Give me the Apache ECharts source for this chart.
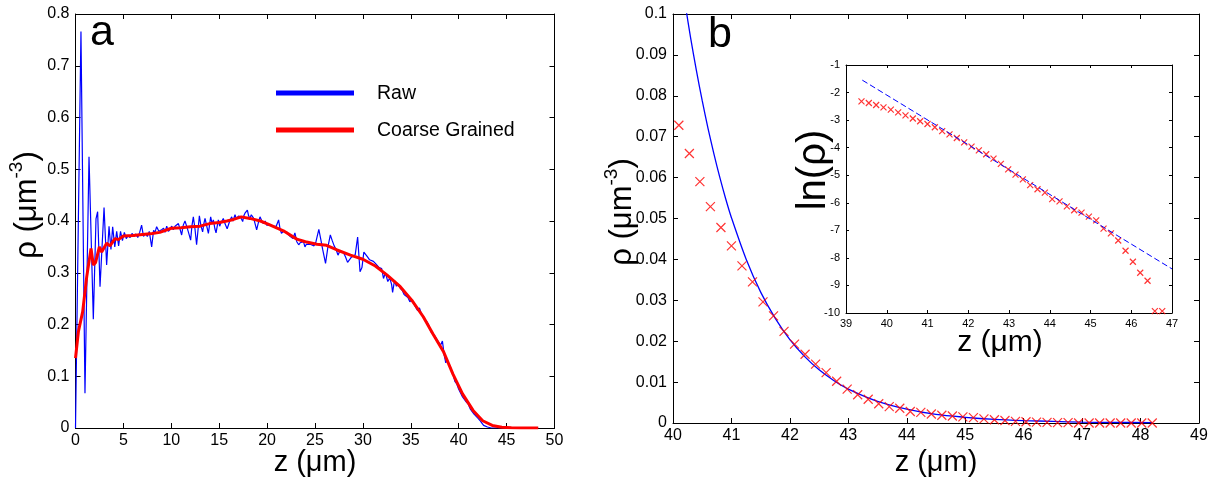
<!DOCTYPE html>
<html><head><meta charset="utf-8">
<script src="https://cdn.jsdelivr.net/npm/echarts@6/dist/echarts.min.js"></script>
<style>html,body{margin:0;padding:0;background:#fff}#c{width:1213px;height:477px}</style>
</head><body><div id="c"></div>
<script>
// ---------- DATA ----------
const seriesNames = ['Raw', 'Coarse Grained'];
// Panel a: raw density [z (µm), rho (µm^-3)]
const rawData = [
[0,0],[0.57,0.766],[0.99,0.067],[1.41,0.524],[1.86,0.21],[2.14,0.404],[2.31,0.418],[2.56,0.273],[2.98,0.426],[3.25,0.315],
[3.5,0.39],[3.7,0.345],[3.88,0.389],[4.1,0.35],[4.3,0.38],[4.5,0.352],[4.7,0.38],[4.9,0.362],[5.1,0.378],[5.3,0.366],
[5.5,0.372],[5.7,0.368],[5.9,0.376],[6.1,0.37],[6.3,0.375],[6.5,0.368],[6.7,0.378],[6.9,0.392],[7.1,0.37],[7.3,0.376],
[7.5,0.37],[7.7,0.38],[7.95,0.35],[8.15,0.382],[8.3,0.378],[8.47,0.389],[8.7,0.38],[8.99,0.383],[9.2,0.386],[9.35,0.378],
[9.52,0.39],[9.7,0.38],[9.86,0.384],[10.05,0.39],[10.2,0.383],[10.39,0.39],[10.55,0.388],[10.74,0.395],[10.9,0.385],[11.08,0.373],
[11.25,0.392],[11.43,0.40],[11.6,0.39],[11.78,0.379],[12.02,0.363],[12.15,0.39],[12.3,0.408],[12.47,0.385],[12.64,0.354],[12.93,0.41],
[13.1,0.39],[13.27,0.379],[13.4,0.395],[13.52,0.405],[13.7,0.39],[13.87,0.376],[14.11,0.408],[14.25,0.395],[14.39,0.402],[14.55,0.385],
[14.67,0.377],[14.91,0.402],[15.05,0.39],[15.15,0.395],[15.3,0.392],[15.43,0.405],[15.6,0.395],[15.71,0.392],[15.83,0.385],[15.95,0.383],
[16.1,0.40],[16.3,0.408],[16.45,0.40],[16.65,0.412],[16.78,0.405],[16.89,0.402],[17.05,0.41],[17.17,0.412],[17.3,0.405],[17.45,0.399],
[17.57,0.41],[17.69,0.415],[17.94,0.421],[18.07,0.41],[18.21,0.405],[18.35,0.412],[18.49,0.415],[18.6,0.405],[18.74,0.405],[18.91,0.383],
[19.1,0.398],[19.26,0.408],[19.45,0.40],[19.61,0.395],[19.8,0.40],[19.95,0.392],[20.13,0.395],[20.3,0.392],[20.48,0.392],[20.7,0.39],
[20.93,0.389],[21.2,0.402],[21.35,0.385],[21.5,0.376],[21.7,0.38],[21.9,0.382],[22.1,0.378],[22.3,0.372],[22.5,0.37],[22.7,0.366],
[22.9,0.377],[23.1,0.36],[23.3,0.354],[23.45,0.358],[23.6,0.36],[23.8,0.36],[23.95,0.35],[24.1,0.355],[24.3,0.357],[24.5,0.355],
[24.7,0.356],[24.9,0.352],[25.1,0.36],[25.4,0.384],[25.6,0.365],[25.8,0.345],[26.1,0.318],[26.35,0.35],[26.6,0.373],[26.8,0.362],
[27.0,0.352],[27.2,0.345],[27.4,0.334],[27.6,0.342],[27.8,0.343],[28.0,0.338],[28.2,0.33],[28.4,0.32],[28.6,0.317],[28.8,0.33],
[29.0,0.33],[29.2,0.335],[29.45,0.369],[29.7,0.302],[29.9,0.31],[30.1,0.34],[30.3,0.341],[30.5,0.33],[30.7,0.325],[30.9,0.322],
[31.1,0.322],[31.3,0.318],[31.5,0.315],[31.7,0.31],[31.96,0.308],[32.15,0.289],[32.35,0.3],[32.6,0.283],[32.8,0.29],[33.0,0.277],
[33.1,0.262],[33.3,0.285],[33.5,0.274],[33.7,0.278],[33.9,0.27],[34.1,0.266],[34.3,0.258],[34.5,0.259],[34.7,0.252],[34.9,0.244],
[35.1,0.248],[35.3,0.24],[35.5,0.238],[35.7,0.227],[35.9,0.232],[36.1,0.221],[36.3,0.215],[36.5,0.209],[36.7,0.205],[36.9,0.198],
[37.1,0.186],[37.3,0.184],[37.5,0.178],[37.7,0.172],[37.9,0.166],[38.1,0.16],[38.3,0.168],[38.5,0.14],[38.65,0.126],[38.8,0.132],
[39.0,0.122],[39.2,0.114],[39.4,0.104],[39.6,0.09],[39.8,0.085],[40.0,0.075],[40.2,0.072],[40.4,0.06],[40.6,0.058],[40.8,0.05],
[41.0,0.046],[41.2,0.037],[41.4,0.035],[41.6,0.027],[41.8,0.024],[42.0,0.019],[42.2,0.015],[42.4,0.01],[42.6,0.005],[42.8,0.006],
[43.0,0.002],[43.2,0.003],[43.4,0],[48.3,0]
];
// Panel a: coarse grained density [z, rho]
const coarseData = [
[0,0.135],[0.3,0.186],[0.75,0.225],[1.17,0.292],[1.62,0.347],[1.86,0.315],[2.1,0.32],[2.49,0.350],[2.73,0.34],[3.25,0.357],
[3.6,0.352],[4.12,0.366],[4.47,0.364],[5.0,0.371],[6.0,0.372],[7.0,0.374],[8.0,0.376],[8.8,0.378],[10.0,0.386],[11.0,0.387],
[12.0,0.389],[13.0,0.39],[14.0,0.395],[15.0,0.397],[15.8,0.40],[16.5,0.403],[17.3,0.408],[18.2,0.405],[19.3,0.400],[20.1,0.394],
[21.7,0.381],[23.1,0.365],[24.0,0.36],[25.2,0.355],[26.2,0.353],[27.3,0.344],[28.7,0.334],[30.0,0.326],[31.3,0.313],[32.5,0.296],
[33.9,0.273],[35.1,0.247],[36.3,0.215],[37.3,0.182],[38.4,0.148],[39.4,0.104],[40.4,0.066],[41.5,0.034],[42.5,0.014],[43.5,0.005],
[44.5,0.0015],[45.5,0.0005],[46.5,0],[48.3,0]
];
// Panel b: measured density (markers)
const bZ = [40.1,40.28,40.46,40.64,40.82,41.0,41.18,41.36,41.54,41.72,41.9,42.08,42.26,42.44,42.62,42.8,42.98,43.16,43.34,43.52,
43.7,43.88,44.06,44.24,44.42,44.6,44.78,44.96,45.14,45.32,45.5,45.68,45.86,46.04,46.22,46.4,46.58,46.76,46.94,47.12,
47.3,47.48,47.66,47.84,48.02,48.2];
const bRho = [0.0728,0.0659,0.0590,0.0529,0.0478,0.0433,0.0384,0.0345,0.0296,0.0262,0.0224,0.0193,0.0168,0.0144,0.0123,0.0102,0.0083,0.0069,0.0058,0.0047,
0.0040,0.0036,0.0028,0.0026,0.0022,0.0019,0.0017,0.0015,0.0013,0.0010,0.0008,0.0006,0.0004,0.0003,0.0002,0.00015,0.0001,0.0001,0,0,
0,0,0,0,0,0];
// Panel b: exponential fit curve
const bFitZ = [40.2,40.3,40.4,40.5,40.6,40.7,40.8,40.9,41.0,41.25,41.5,41.75,42.0,42.25,42.5,42.75,43.0,43.5,44.0,44.5,45.0,45.5,46.0,46.5,47.0,47.5,48.2];
const bFitRho = [0.1032,0.0943,0.0862,0.0788,0.0720,0.0658,0.0601,0.0549,0.0502,0.0401,0.0320,0.0256,0.0204,0.0163,0.0130,0.0104,0.0083,0.0053,0.0034,0.0021,0.0014,0.0009,0.0006,0.0004,0.0002,0.00015,0.0001];
// Inset: ln(rho) vs z
const inZ = [39.38,39.56,39.74,39.92,40.1,40.28,40.46,40.64,40.82,41.0,41.18,41.36,41.54,41.72,41.9,42.08,42.26,42.44,42.62,42.8,
42.98,43.16,43.34,43.52,43.7,43.88,44.06,44.24,44.42,44.6,44.78,44.96,45.14,45.32,45.5,45.68,45.86,46.04,46.22,46.4,46.58,46.76];
const inLn = [-2.32,-2.38,-2.45,-2.54,-2.62,-2.72,-2.83,-2.94,-3.04,-3.14,-3.26,-3.40,-3.52,-3.65,-3.81,-3.96,-4.10,-4.24,-4.40,-4.59,
-4.79,-4.98,-5.15,-5.36,-5.51,-5.63,-5.87,-5.95,-6.13,-6.27,-6.36,-6.50,-6.64,-6.94,-7.11,-7.37,-7.74,-8.14,-8.54,-8.83,-9.93,-9.93];
const inFitZ = [39.4, 47.0];
const inFitLn = [-1.55, -8.4];
// Tick labels
const aXTicks = ['0','5','10','15','20','25','30','35','40','45','50'];
const aYTicks = ['0','0.1','0.2','0.3','0.4','0.5','0.6','0.7','0.8'];
const bXTicks = ['40','41','42','43','44','45','46','47','48','49'];
const bYTicks = ['0','0.01','0.02','0.03','0.04','0.05','0.06','0.07','0.08','0.09','0.1'];
const inXTicks = ['39','40','41','42','43','44','45','46','47'];
const inYTicks = ['-10','-9','-8','-7','-6','-5','-4','-3','-2','-1'];
const panelLabels = ['a','b'];
const xTitle = 'z (μm)';
const insetYTitle = 'ln(ρ)';

// ---------- CHART ----------
const FONT = '"Liberation Sans", Arial, Helvetica, sans-serif';
const chart = echarts.init(document.getElementById('c'));
function zip(a,b){return a.map((v,i)=>[v,b[i]]);}
function axisPair(gridIndex, min, max, interval, labels, isX, fs, tickLen){
  const fmt = v => labels[Math.round((v-min)/interval)];
  const base = {
    gridIndex, type:'value', min, max, interval,
    axisLine:{show:true, onZero:false, lineStyle:{color:'#000', width:1}},
    axisTick:{show:true, inside:true, length:tickLen, lineStyle:{color:'#000', width:1}},
    splitLine:{show:false}
  };
  const a = Object.assign({}, base, {position: isX?'bottom':'left',
    axisLabel:{show:true, formatter:fmt, color:'#000', fontFamily:FONT, fontSize:fs, margin: isX?5:6}});
  const b = Object.assign({}, base, {position: isX?'top':'right', axisLabel:{show:false}});
  return [a,b];
}
const xa = axisPair(0,0,50,5,aXTicks,true,16,5);
const ya = axisPair(0,0,0.8,0.1,aYTicks,false,16,5);
const xb = axisPair(1,40,49,1,bXTicks,true,16,5);
const yb = axisPair(1,0,0.1,0.01,bYTicks,false,16,5);
const xi = axisPair(2,39,47,1,inXTicks,true,11,3);
const yi = axisPair(2,-10,-1,1,inYTicks,false,11,3);

const xMark = 'path://M0 0L10 10M10 0L0 10';
const yTitleRich = {
  n:{fontSize:31, fontFamily:FONT, color:'#000', lineHeight:36, verticalAlign:'bottom'},
  s:{fontSize:19, fontFamily:FONT, color:'#000', lineHeight:19, verticalAlign:'top'}
};

chart.setOption({
  animation:false,
  backgroundColor:'#fff',
  grid:[
    {left:75.5, top:14, width:479, height:414},
    {left:673, top:14, width:526, height:409},
    {left:846, top:65, width:326, height:248}
  ],
  xAxis:[xa[0],xa[1],xb[0],xb[1],xi[0],xi[1]],
  yAxis:[ya[0],ya[1],yb[0],yb[1],yi[0],yi[1]],
  series:[
    {name:seriesNames[0], type:'line', xAxisIndex:0, yAxisIndex:0, data:rawData, showSymbol:false,
     lineStyle:{color:'#0000ff', width:1.2}, z:2},
    {name:seriesNames[1], type:'line', xAxisIndex:0, yAxisIndex:0, data:coarseData, showSymbol:false,
     lineStyle:{color:'#ff0000', width:3}, z:3},
    {type:'line', xAxisIndex:2, yAxisIndex:2, data:zip(bFitZ,bFitRho), showSymbol:false, smooth:0.3,
     lineStyle:{color:'#0000ff', width:1.3}, z:2},
    {type:'scatter', xAxisIndex:2, yAxisIndex:2, data:zip(bZ,bRho), symbol:xMark, symbolSize:9, clip:false,
     itemStyle:{color:'rgba(0,0,0,0)', borderColor:'#ff0000', borderWidth:1.2}, z:3},
    {type:'line', xAxisIndex:4, yAxisIndex:4, data:zip(inFitZ,inFitLn), showSymbol:false,
     lineStyle:{color:'#0000ff', width:1, type:[6,3]}, z:4},
    {type:'scatter', xAxisIndex:4, yAxisIndex:4, data:zip(inZ,inLn), symbol:xMark, symbolSize:6, clip:false,
     itemStyle:{color:'rgba(0,0,0,0)', borderColor:'#ff0000', borderWidth:1.2}, z:3}
  ],
  graphic:[
    {type:'text', left:90, top:12, style:{text:panelLabels[0], font:'43px '+FONT, fill:'#000'}},
    {type:'text', left:708, top:14, style:{text:panelLabels[1], font:'43px '+FONT, fill:'#000'}},
    // legend
    {type:'line', shape:{x1:276, y1:93, x2:354, y2:93}, style:{stroke:'#0000ff', lineWidth:5}},
    {type:'line', shape:{x1:276, y1:130, x2:354, y2:130}, style:{stroke:'#ff0000', lineWidth:5}},
    {type:'text', x:377, y:94, style:{text:seriesNames[0], font:'19.5px '+FONT, fill:'#000', verticalAlign:'middle'}},
    {type:'text', x:377, y:131, style:{text:seriesNames[1], font:'19.5px '+FONT, fill:'#000', verticalAlign:'middle'}},
    // x titles
    {type:'text', x:315, y:463, style:{text:xTitle, font:'29px '+FONT, fill:'#000', align:'center', verticalAlign:'middle'}},
    {type:'text', x:936, y:463, style:{text:xTitle, font:'29px '+FONT, fill:'#000', align:'center', verticalAlign:'middle'}},
    {type:'text', x:1000, y:343, style:{text:xTitle, font:'30px '+FONT, fill:'#000', align:'center', verticalAlign:'middle'}},
    // y titles
    {type:'text', x:25, y:205, rotation:Math.PI/2, style:{text:'{n|ρ (μm}{s|-3}{n|)}', align:'center', verticalAlign:'middle', rich:yTitleRich}},
    {type:'text', x:620, y:212, rotation:Math.PI/2, style:{text:'{n|ρ (μm}{s|-3}{n|)}', align:'center', verticalAlign:'middle', rich:yTitleRich}},
    {type:'text', x:814, y:170, rotation:Math.PI/2, style:{text:insetYTitle, font:'40px '+FONT, fill:'#000', align:'center', verticalAlign:'middle'}}
  ]
});
</script></body></html>
